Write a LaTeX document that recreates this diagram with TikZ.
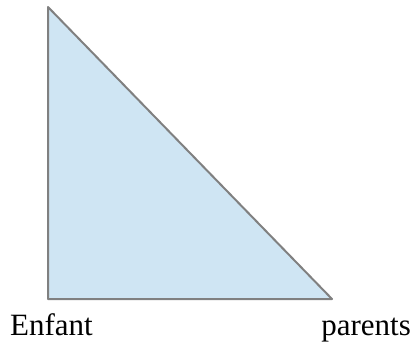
\documentclass[tikz,border=0pt]{standalone}
\usepackage{fontspec}
\setmainfont{Liberation Serif}
\usepackage{tikz}

\definecolor{trifill}{HTML}{CFE5F3}
\definecolor{triline}{HTML}{808080}

\begin{document}
\begin{tikzpicture}[x=1pt,y=-1pt]
  \useasboundingbox (0,0) rectangle (412,345);
  \tikzset{lbl/.style={font=\fontsize{31}{31}\selectfont,inner sep=0pt}}

  % triangle
  \coordinate (top) at (48,7);
  \coordinate (bl) at (48,299);
  \coordinate (br) at (332,299);
  \draw[triline,line width=2pt,line join=round,fill=trifill] (top) -- (bl) -- (br) -- cycle;

  % labels
  \node[lbl,anchor=base west] (enfant) at (10,335) {Enfant};
  \node[lbl,anchor=base east] (parents) at (411,335) {parents};
\end{tikzpicture}
\end{document}
